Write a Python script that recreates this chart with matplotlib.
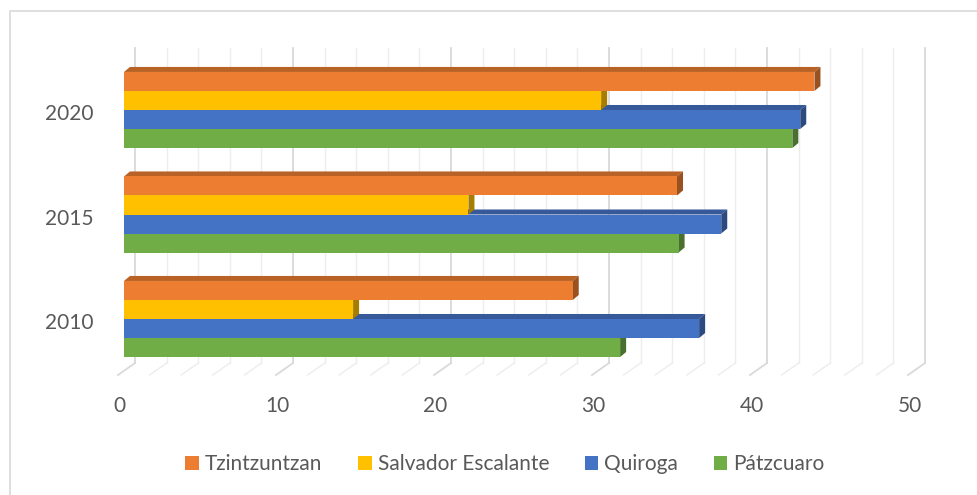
import numpy as np
import matplotlib
matplotlib.use("Agg")
import matplotlib.pyplot as plt
from matplotlib.patches import Polygon, Patch, Rectangle
from matplotlib import colors as mcolors

plt.rcParams['font.family'] = ['Lato', 'DejaVu Sans']

# data
years = ['2010', '2015', '2020']
series = ['Tzintzuntzan', 'Salvador Escalante', 'Quiroga', 'Pátzcuaro']
tzintzuntzan = [28.4, 35.0, 43.7]
salvador = [14.5, 21.8, 30.2]
quiroga = [36.4, 37.8, 42.8]
patzcuaro = [31.4, 35.1, 42.3]
values = [tzintzuntzan, salvador, quiroga, patzcuaro]
colors = ['#ED7D31', '#FFC000', '#4472C4', '#70AD47']
xticks = np.arange(0, 51, 10)

# fake 3d geometry (data units)
h = 0.182          # bar height
dx, dy = 0.38, 0.048   # bar depth offset
fx, fy = -0.38, -0.536  # floor front
bx, by = 0.70, -0.421   # floor back / back wall
top = 2.593
text_col = '#595959'

fig = plt.figure(figsize=(9.77, 4.95), dpi=100)
ax = fig.add_axes([0, 0, 1, 1])
ax.set_xlim(-124 / 15.8, (977 - 124) / 15.8)
ax.set_ylim((319 - 495) / 104.5, 319 / 104.5)
ax.axis('off')

# back wall + floor grid
for v in np.arange(0, 51, 2):
    major = (v % 10 == 0)
    c = '#D9D9D9' if major else '#EDEDED'
    lw = 1.3 if major else 1.0
    ax.plot([v + bx, v + bx], [by, top], color=c, lw=lw, zorder=1)
    ax.plot([v + fx, v + bx], [fy, by], color=c, lw=lw, zorder=1)

def shade(c, f):
    r, g, b = mcolors.to_rgb(c)
    return (r * f, g * f, b * f)

ypos = np.arange(len(years))
offsets = [1.5 * h, 0.5 * h, -0.5 * h, -1.5 * h]

# draw bottom series first so upper bars cover lower top faces
z = 2
for s in [3, 2, 1, 0]:
    for i, y0 in enumerate(ypos):
        yc = y0 + offsets[s]
        v = values[s][i]
        y1, y2 = yc - h / 2, yc + h / 2
        topface = Polygon([(0, y2), (dx, y2 + dy), (v + dx, y2 + dy), (v, y2)],
                          closed=True, facecolor=shade(colors[s], 0.78),
                          edgecolor='none', zorder=z)
        side = Polygon([(v, y1), (v + dx, y1 + dy), (v + dx, y2 + dy), (v, y2)],
                       closed=True, facecolor=shade(colors[s], 0.65),
                       edgecolor='none', zorder=z)
        ax.add_patch(topface)
        ax.add_patch(side)
        ax.barh(yc, v, height=h, left=0, color=colors[s], zorder=z + 0.5)
    z += 1

# tick labels
for v in xticks:
    ax.text(v - 0.28, (319 - 406) / 104.5, str(v), ha='center', va='center',
            fontsize=15, color=text_col)
for i, y0 in enumerate(ypos):
    ax.text(-1.96, y0 - 0.04, years[i], ha='right', va='center',
            fontsize=15, color=text_col)

handles = [Patch(facecolor=c, edgecolor='none') for c in colors]
leg = fig.legend(handles, series, loc='center', bbox_to_anchor=(0.517, 0.0626),
                 ncol=4, frameon=False, fontsize=15, handlelength=0.65,
                 handleheight=0.65, handletextpad=0.3, columnspacing=1.7)
for t in leg.get_texts():
    t.set_color(text_col)

# chart border
fig.patches.append(Rectangle((10 / 977, -0.05), 1.0, 1 - 11 / 495 + 0.05,
                             transform=fig.transFigure, fill=False,
                             edgecolor='#D9D9D9', lw=1.2))

fig.savefig('out.png', dpi=100)
